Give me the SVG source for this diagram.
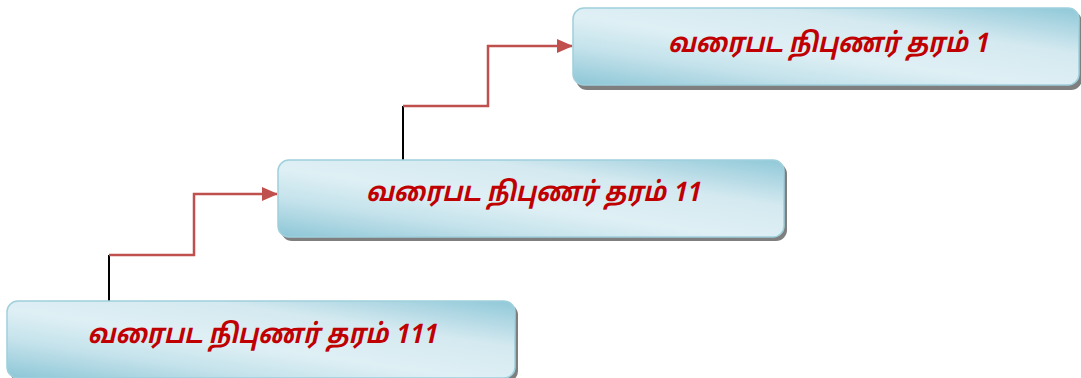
<svg xmlns="http://www.w3.org/2000/svg" width="1081" height="378" viewBox="0 0 1081 378">
<defs>
<linearGradient id="g" x1="1" y1="0" x2="0" y2="1">
<stop offset="0" stop-color="#8fc8d8"/>
<stop offset="0.3" stop-color="#d4e9f0"/>
<stop offset="0.55" stop-color="#dff0f5"/>
<stop offset="0.75" stop-color="#c4e2eb"/>
<stop offset="1" stop-color="#8cc6d6"/>
</linearGradient>
<marker id="ah" markerWidth="16" markerHeight="14" refX="15" refY="7" orient="auto" markerUnits="userSpaceOnUse">
<path d="M0,0 L16,7 L0,14 Z" fill="#c0504d"/>
</marker>
<style>
.box{fill:url(#g);stroke:#9fd0dc;stroke-width:1.5}
.sh{fill:#7f7f7f}
.t{font-family:"Noto Sans Tamil","Lohit Tamil","Latha","Noto Sans",sans-serif;font-size:27px;font-weight:bold;font-style:italic;fill:#c00000;text-anchor:middle}
.red{fill:none;stroke:#c0504d;stroke-width:2.5}
.blk{fill:none;stroke:#000;stroke-width:2}
</style>
</defs>
<g id="connectors">
<path class="blk" d="M109,301 V255"/>
<path class="red" d="M109,255 H194 V194 H277" marker-end="url(#ah)"/>
<path class="blk" d="M403,160 V106"/>
<path class="red" d="M403,106 H488 V46 H572" marker-end="url(#ah)"/>
</g>
<g id="node1">
<rect class="sh" x="576" y="11" width="506" height="79" rx="11"/>
<rect class="box" x="573" y="8" width="506" height="77" rx="11"/>
<text class="t" x="828" y="52" textLength="320" lengthAdjust="spacingAndGlyphs">வரைபட நிபுணர் தரம் 1</text>
</g>
<g id="node2">
<rect class="sh" x="281" y="163" width="506" height="78" rx="11"/>
<rect class="box" x="278" y="160" width="506" height="77" rx="11"/>
<text class="t" x="533" y="201" textLength="334" lengthAdjust="spacingAndGlyphs">வரைபட நிபுணர் தரம் 11</text>
</g>
<g id="node3">
<rect class="sh" x="10" y="304" width="508" height="78" rx="11"/>
<rect class="box" x="7" y="301" width="508" height="77" rx="11"/>
<text class="t" x="262" y="343" textLength="349" lengthAdjust="spacingAndGlyphs">வரைபட நிபுணர் தரம் 111</text>
</g>
</svg>
